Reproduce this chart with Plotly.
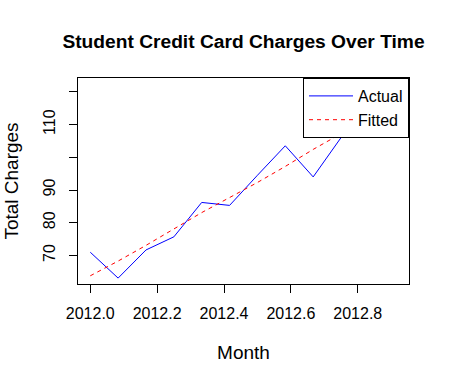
import plotly.graph_objects as go

month = [2012.0000, 2012.0833, 2012.1667, 2012.2500, 2012.3333, 2012.4167,
         2012.5000, 2012.5833, 2012.6667, 2012.7500, 2012.8333, 2012.9167]
actual = [71.0, 63.1, 71.7, 75.7, 86.2, 85.3, 94.5, 103.5, 94.0, 106.0, 110.4, 121.9]
fitted = [63.8, 68.3, 73.1, 78.2, 83.1, 87.7, 92.3, 97.2, 102.4, 107.2, 111.6, 116.0]

x_ticks = [2012.0, 2012.2, 2012.4, 2012.6, 2012.8]
x_tick_text = ["2012.0", "2012.2", "2012.4", "2012.6", "2012.8"]
y_ticks = [70, 80, 90, 100, 110, 120]
y_tick_text = ["70", "80", "90", "", "110", ""]

FONT = "Liberation Sans, Arial, sans-serif"

fig = go.Figure()
fig.add_trace(go.Scatter(x=month, y=actual, mode="lines", name="Actual",
                         line=dict(color="#0000FF", width=1)))
fig.add_trace(go.Scatter(x=month, y=fitted, mode="lines", name="Fitted",
                         line=dict(color="#FF0000", width=1, dash="4px,4px")))

fig.update_layout(
    width=450, height=383,
    margin=dict(l=78, r=41, t=78, b=99),
    paper_bgcolor="white", plot_bgcolor="white",
    font=dict(family=FONT, size=16, color="black"),
    title=dict(text="<b>Student Credit Card Charges Over Time</b>",
               x=0.5, xref="paper", xanchor="center",
               y=1 - 41 / 383, yref="container", yanchor="middle",
               font=dict(size=19.2, family=FONT, color="black")),
    showlegend=True,
    legend=dict(x=1, y=1, xanchor="right", yanchor="top",
                bgcolor="white", bordercolor="black", borderwidth=1,
                font=dict(size=16), tracegroupgap=0, itemwidth=44),
    xaxis=dict(range=[2011.9633, 2012.9533], tickvals=x_ticks, ticktext=x_tick_text,
               showgrid=False, zeroline=False, showline=True, linecolor="black",
               linewidth=1, mirror=True, ticks="outside", ticklen=8,
               tickcolor="black", ticklabelstandoff=7,
               title=dict(text="Month", standoff=24)),
    yaxis=dict(range=[61.3, 124.2], tickvals=y_ticks, ticktext=y_tick_text,
               showgrid=False, zeroline=False, showline=True, linecolor="black",
               linewidth=1, mirror=True, ticks="outside", ticklen=8,
               tickcolor="black", tickangle=-90, ticklabelstandoff=8,
               title=dict(text="Total Charges", standoff=16)),
)

fig.write_html("out.html", config={"displayModeBar": False},
               post_script="document.body.style.margin='0';")
